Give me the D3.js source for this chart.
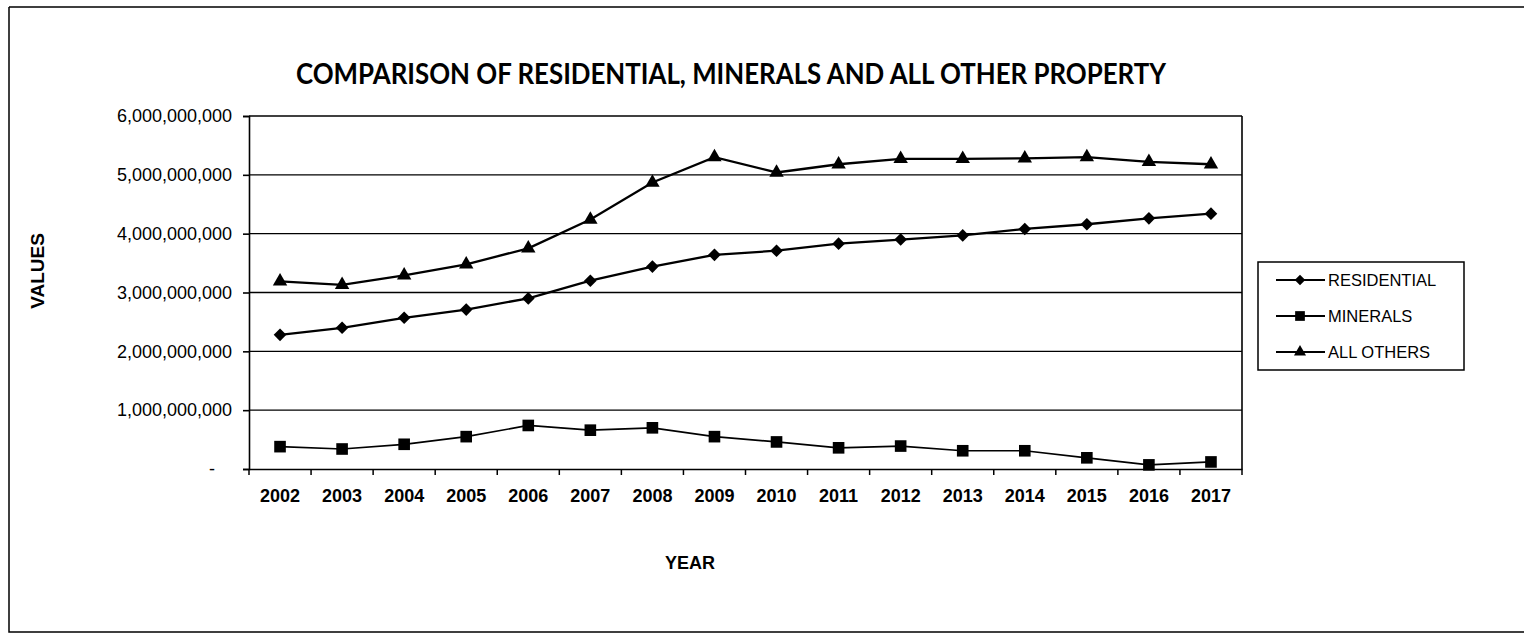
<!DOCTYPE html>
<html><head><meta charset="utf-8">
<script src="https://cdn.jsdelivr.net/npm/d3@7"></script>
<style>body{margin:0;background:#fff}svg{display:block}</style>
</head><body>
<script>
const years = ["2002","2003","2004","2005","2006","2007","2008","2009","2010","2011","2012","2013","2014","2015","2016","2017"];
const residential = [2.28e9,2.40e9,2.57e9,2.71e9,2.90e9,3.20e9,3.44e9,3.64e9,3.71e9,3.83e9,3.90e9,3.97e9,4.08e9,4.16e9,4.26e9,4.34e9];
const minerals = [0.38e9,0.34e9,0.42e9,0.55e9,0.74e9,0.66e9,0.70e9,0.55e9,0.46e9,0.36e9,0.39e9,0.31e9,0.31e9,0.19e9,0.07e9,0.12e9];
const allOthers = [3.19e9,3.13e9,3.29e9,3.48e9,3.75e9,4.24e9,4.87e9,5.30e9,5.04e9,5.18e9,5.27e9,5.27e9,5.28e9,5.30e9,5.22e9,5.18e9];
const yTicks = [0,1e9,2e9,3e9,4e9,5e9,6e9];
const seriesNames = ["RESIDENTIAL","MINERALS","ALL OTHERS"];
const titleText = "COMPARISON OF RESIDENTIAL, MINERALS AND ALL OTHER PROPERTY";

const W = 1524, H = 635;
const svg = d3.select("body").append("svg").attr("width", W).attr("height", H);
const plot = {left: 249, right: 1242, top: 116, bottom: 469};

// outer frame
svg.append("path").attr("d", `M9,7 H1524 M9,7 V632 H1524`)
  .attr("fill","none").attr("stroke","#000").attr("stroke-width",1.5);

svg.append("text").attr("x", 731).attr("y", 84).attr("text-anchor","middle")
  .attr("font-family","Lato, sans-serif").attr("font-weight",700).attr("font-size",28)
  .attr("textLength", 870).attr("lengthAdjust","spacingAndGlyphs").text(titleText);

const x = d3.scaleBand().domain(years).range([plot.left, plot.right]).padding(0);
const y = d3.scaleLinear().domain([0, 6e9]).range([plot.bottom, plot.top]);

// gridlines
svg.append("g").selectAll("line").data(yTicks.slice(1)).join("line")
  .attr("x1", plot.left).attr("x2", plot.right)
  .attr("y1", d => y(d)).attr("y2", d => y(d))
  .attr("stroke","#000").attr("stroke-width",1.4);
// right border
svg.append("line").attr("x1",plot.right).attr("x2",plot.right).attr("y1",plot.top).attr("y2",plot.bottom)
  .attr("stroke","#000").attr("stroke-width",1.6);

// y axis
const yAxis = svg.append("g").attr("transform",`translate(${plot.left},0)`)
  .call(d3.axisLeft(y).tickValues(yTicks).tickSize(6).tickPadding(11)
    .tickFormat(d => d === 0 ? "-" : d3.format(",")(d)));
yAxis.selectAll("path,line").attr("stroke","#000").attr("stroke-width",1.6);
yAxis.selectAll("text").attr("font-family","Liberation Sans, Arial, sans-serif").attr("font-size",18).attr("fill","#000");
yAxis.selectAll(".tick").filter(d => d === 0).select("text").attr("dx", -17);

// x axis with ticks between categories
const xAxis = svg.append("g").attr("transform",`translate(0,${plot.bottom})`)
  .call(d3.axisBottom(x).tickSize(0).tickPadding(20));
xAxis.select("path").attr("stroke","#000").attr("stroke-width",1.6);
xAxis.selectAll("text").attr("font-family","Liberation Sans Narrow, Arial Narrow, sans-serif")
  .attr("font-size",18).attr("font-weight",700).attr("fill","#000");
svg.append("g").selectAll("line").data(years.concat(["end"])).join("line")
  .attr("x1", (d,i) => plot.left + i * x.bandwidth()).attr("x2", (d,i) => plot.left + i * x.bandwidth())
  .attr("y1", plot.bottom).attr("y2", plot.bottom + 6).attr("stroke","#000").attr("stroke-width",1.5);

// axis titles
svg.append("text").attr("transform","translate(44,271) rotate(-90)").attr("text-anchor","middle")
  .attr("font-family","Liberation Sans, Arial, sans-serif").attr("font-weight",700).attr("font-size",19).text("VALUES");
svg.append("text").attr("x", 690).attr("y", 569).attr("text-anchor","middle")
  .attr("font-family","Liberation Sans, Arial, sans-serif").attr("font-weight",700).attr("font-size",18).text("YEAR");

const cx = d => x(d) + x.bandwidth()/2;
const series = [
  {name: seriesNames[0], values: residential, sym: d3.symbolSquare, rot: 45, size: 80, sw: 2.3},
  {name: seriesNames[1], values: minerals, sym: d3.symbolSquare, rot: 0, size: 135, sw: 1.7},
  {name: seriesNames[2], values: allOthers, sym: d3.symbolTriangle, rot: 0, size: 90, sw: 2.3}
];
const line = d3.line();
series.forEach(s => {
  const pts = years.map((yr,i) => [cx(yr), y(s.values[i])]);
  svg.append("path").attr("d", line(pts)).attr("fill","none").attr("stroke","#000").attr("stroke-width", s.sw);
  svg.append("g").selectAll("path").data(pts).join("path")
    .attr("transform", d => `translate(${d[0]},${d[1]}) rotate(${s.rot})`)
    .attr("d", d3.symbol().type(s.sym).size(s.size)).attr("fill","#000");
});

// legend
const lg = svg.append("g");
lg.append("rect").attr("x",1258).attr("y",262).attr("width",206).attr("height",108)
  .attr("fill","#fff").attr("stroke","#000").attr("stroke-width",1.5);
series.forEach((s,i) => {
  const ly = 280 + i * 36;
  lg.append("line").attr("x1",1276).attr("x2",1325).attr("y1",ly).attr("y2",ly).attr("stroke","#000").attr("stroke-width",2);
  lg.append("path").attr("transform",`translate(1300,${ly}) rotate(${s.rot})`).attr("d", d3.symbol().type(s.sym).size(s.size*0.7)).attr("fill","#000");
  lg.append("text").attr("x",1328).attr("y",ly+6).attr("font-family","Liberation Sans, Arial, sans-serif")
    .attr("font-size",16.5).attr("fill","#000").text(s.name);
});
</script>
</body></html>
